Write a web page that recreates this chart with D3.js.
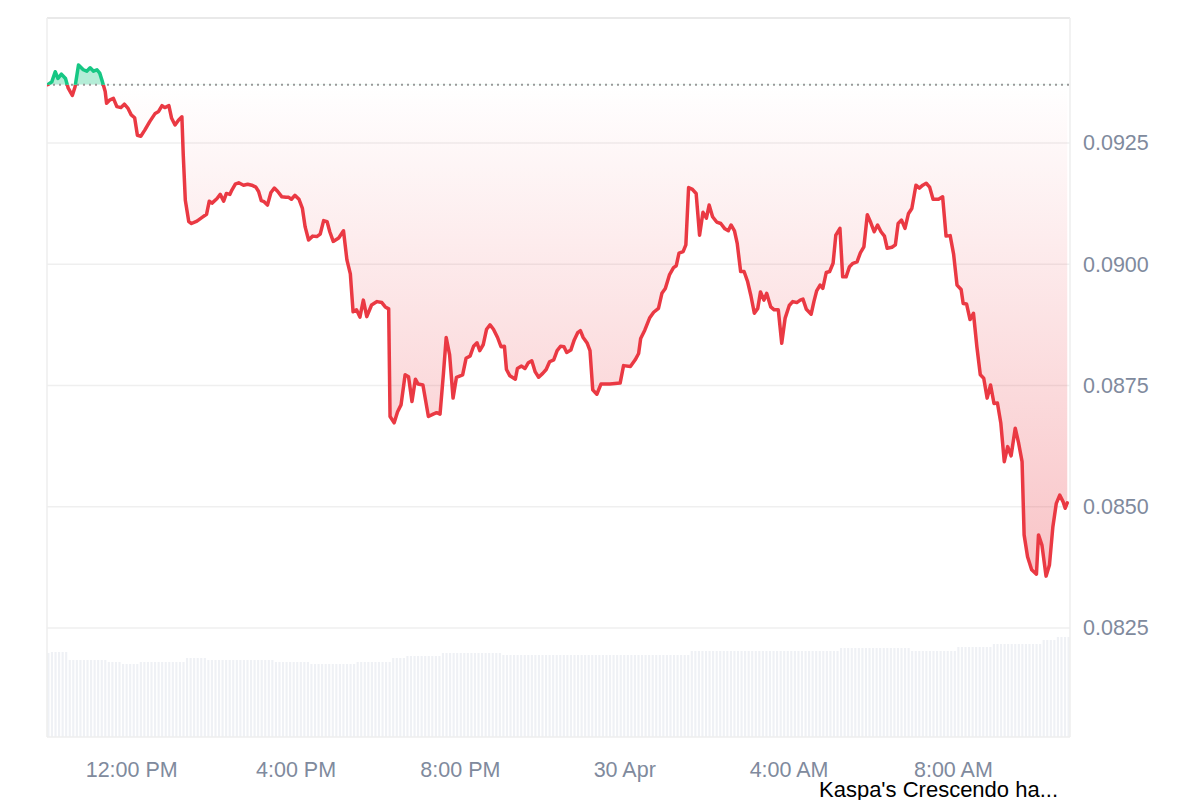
<!DOCTYPE html>
<html>
<head>
<meta charset="utf-8">
<script src="https://cdn.jsdelivr.net/npm/d3@7"></script>
<style>
  html, body { margin: 0; padding: 0; background: #ffffff; }
  svg { display: block; }
  text { font-family: "Liberation Sans", Arial, Helvetica, sans-serif; }
</style>
</head>
<body>
<svg id="chart" width="1200" height="800"></svg>
<script>
// ---------- DATA ----------
const startTime = new Date(2025, 3, 29, 9, 57);   // left edge of the chart
const spanMinutes = 1494;                          // right edge of the chart
const baselinePrice = 0.0937;                      // opening price (dotted line)

// minutes after startTime
const minutes = [
  0,2,7,12,16,21,27,31,37,41,
  46,53,58,63,68,73,77,81,85,87,
  92,97,102,108,113,118,123,128,132,137,
  143,150,158,163,168,172,178,182,187,192,
  197,199,202,207,211,219,226,233,237,241,
  248,253,258,262,267,270,275,280,287,293,
  299,305,309,313,317,322,327,332,337,343,
  349,353,357,362,368,373,377,382,388,394,
  399,404,409,413,418,426,433,438,443,447,
  452,457,462,467,474,482,489,494,499,501,
  507,512,517,523,528,533,538,542,549,557,
  564,569,574,579,583,588,593,598,607,612,
  618,623,628,632,637,642,647,652,658,663,
  668,671,676,684,687,693,698,703,708,713,
  718,724,729,734,740,745,750,755,759,765,
  770,775,779,783,789,793,797,803,809,822,
  837,842,852,859,864,867,873,880,886,893,
  898,903,909,915,919,923,929,933,937,942,
  948,953,958,963,967,972,978,984,990,995,
  999,1004,1008,1013,1018,1023,1028,1033,1038,1042,
  1047,1051,1057,1062,1068,1073,1078,1084,1089,1095,
  1100,1104,1109,1116,1120,1124,1129,1133,1138,1143,
  1148,1152,1158,1162,1167,1172,1177,1183,1188,1193,
  1198,1203,1208,1213,1218,1223,1227,1234,1239,1243,
  1248,1253,1258,1263,1269,1274,1279,1284,1289,1294,
  1302,1308,1313,1319,1324,1329,1335,1338,1343,1348,
  1353,1358,1363,1368,1373,1378,1383,1388,1393,1398,
  1403,1408,1414,1419,1424,1427,1432,1438,1445,1448,
  1453,1459,1464,1469,1474,1479,1484,1487,1490
];

// price in USD
const prices = [
  0.09370,0.09371,0.09376,0.09397,0.09383,0.09392,0.09383,0.09363,0.09348,0.09366,
  0.09411,0.09401,0.09398,0.09405,0.09398,0.09401,0.09394,0.09376,0.09356,0.09332,
  0.09339,0.09342,0.09325,0.09323,0.09330,0.09322,0.09308,0.09302,0.09266,0.09264,
  0.09277,0.09294,0.09311,0.09315,0.09327,0.09323,0.09327,0.09301,0.09287,0.09297,
  0.09304,0.09225,0.09132,0.09088,0.09084,0.09089,0.09096,0.09103,0.09130,0.09126,
  0.09135,0.09144,0.09130,0.09146,0.09144,0.09153,0.09165,0.09168,0.09163,0.09165,
  0.09163,0.09159,0.09150,0.09131,0.09129,0.09122,0.09148,0.09157,0.09150,0.09139,
  0.09138,0.09138,0.09134,0.09142,0.09134,0.09115,0.09077,0.09050,0.09058,0.09057,
  0.09062,0.09090,0.09088,0.09067,0.09047,0.09054,0.09069,0.09009,0.08980,0.08902,
  0.08906,0.08891,0.08926,0.08892,0.08916,0.08923,0.08921,0.08912,0.08908,0.08686,
  0.08673,0.08696,0.08710,0.08772,0.08768,0.08717,0.08763,0.08753,0.08751,0.08686,
  0.08691,0.08694,0.08691,0.08775,0.08849,0.08813,0.08724,0.08767,0.08772,0.08806,
  0.08811,0.08831,0.08838,0.08822,0.08834,0.08866,0.08875,0.08866,0.08849,0.08830,
  0.08831,0.08783,0.08770,0.08763,0.08785,0.08790,0.08785,0.08797,0.08801,0.08778,
  0.08767,0.08775,0.08783,0.08799,0.08803,0.08822,0.08831,0.08830,0.08818,0.08823,
  0.08844,0.08859,0.08863,0.08849,0.08837,0.08822,0.08741,0.08732,0.08753,0.08753,
  0.08755,0.08791,0.08789,0.08803,0.08816,0.08847,0.08864,0.08889,0.08901,0.08909,
  0.08940,0.08950,0.08978,0.08993,0.08997,0.09023,0.09026,0.09040,0.09158,0.09155,
  0.09146,0.09060,0.09107,0.09095,0.09122,0.09098,0.09087,0.09084,0.09073,0.09069,
  0.09081,0.09069,0.09043,0.08985,0.08985,0.08965,0.08935,0.08899,0.08909,0.08943,
  0.08926,0.08940,0.08912,0.08906,0.08906,0.08837,0.08889,0.08915,0.08923,0.08921,
  0.08926,0.08928,0.08907,0.08897,0.08923,0.08945,0.08957,0.08950,0.08983,0.08985,
  0.09002,0.09060,0.09074,0.08974,0.08974,0.08995,0.09002,0.09005,0.09024,0.09036,
  0.09102,0.09086,0.09067,0.09081,0.09067,0.09058,0.09033,0.09035,0.09040,0.09084,
  0.09091,0.09074,0.09104,0.09115,0.09163,0.09157,0.09163,0.09167,0.09159,0.09134,
  0.09134,0.09139,0.09058,0.09059,0.09021,0.08957,0.08948,0.08919,0.08918,0.08886,
  0.08899,0.08830,0.08772,0.08765,0.08724,0.08751,0.08713,0.08714,0.08672,0.08593,
  0.08624,0.08605,0.08662,0.08631,0.08593,0.08442,0.08397,0.08370,0.08361,0.08442,
  0.08421,0.08357,0.08380,0.08459,0.08507,0.08524,0.08510,0.08497,0.08508
];

// rolling volume (relative units), one bar per 5 minutes
const volumes = [
  84,85,85,85,85,85,
  77,77,77,77,77,77,77,77,77,77,77,
  75,75,75,75,
  73,73,73,73,73,
  75,75,75,75,75,75,75,75,75,75,75,75,75,
  79,79,79,79,79,79,
  77,77,77,77,77,77,77,77,77,77,77,77,77,77,77,77,77,77,77,
  75,75,75,75,75,75,75,75,75,75,
  73,73,73,73,73,73,73,73,73,73,73,73,73,
  75,75,75,75,75,75,75,75,75,75,
  79,79,79,79,
  81,81,81,81,81,81,81,81,81,81,
  84,84,84,84,84,84,84,84,84,84,84,84,84,84,84,84,84,
  82,82,82,82,82,82,82,82,82,82,82,82,82,82,82,82,82,82,82,82,
  82,82,82,82,82,82,82,82,82,82,82,82,82,82,82,82,82,82,82,82,
  82,82,82,82,82,82,82,82,82,82,82,82,82,
  86,86,86,86,86,86,86,86,86,86,86,86,86,86,86,86,86,86,86,86,86,
  86,86,86,86,86,86,86,86,86,86,86,86,86,86,86,86,86,86,86,86,86,
  89,89,89,89,89,89,89,89,89,89,89,89,89,89,89,89,89,89,89,89,
  86,86,86,86,86,86,86,86,86,86,86,86,86,
  90,90,90,90,90,90,90,90,90,90,
  93,93,93,93,93,93,93,93,93,93,93,93,93,93,
  97,97,97,97,
  100,100,100,100
];
const volumeMax = 100;

const priceTicks = [0.0825, 0.0850, 0.0875, 0.0900, 0.0925];
const timeTickStrings = ["2025-04-29 12:00","2025-04-29 16:00","2025-04-29 20:00","2025-04-30 00:00","2025-04-30 04:00","2025-04-30 08:00"];
const timeTickLabels = ["12:00 PM","4:00 PM","8:00 PM","30 Apr","4:00 AM","8:00 AM"];
const priceDomain = [0.080253, 0.095077];
const newsLabel = "Kaspa's Crescendo ha...";

// ---------- LAYOUT ----------
const W = 1200, H = 800;
const plot = { left: 47, right: 1070, top: 18, bottom: 737 };
const volTopPx = 637;

const RED = "#ea3943", GREEN = "#16c784";

const svg = d3.select("#chart");
svg.append("rect").attr("width", W).attr("height", H).attr("fill", "#ffffff");

const parseT = d3.timeParse("%Y-%m-%d %H:%M");
const endTime = d3.timeMinute.offset(startTime, spanMinutes);

const x = d3.scaleTime().domain([startTime, endTime]).range([plot.left, plot.right]);
const y = d3.scaleLinear().domain(priceDomain).range([plot.bottom, plot.top]);
const yVol = d3.scaleLinear().domain([0, volumeMax]).range([plot.bottom, volTopPx]);

const data = minutes.map((m, i) => ({ t: d3.timeMinute.offset(startTime, m), p: prices[i] }))
  .filter(d => d.p !== undefined);

const defs = svg.append("defs");
const baseY = y(baselinePrice);
const minY = y(d3.min(prices));

const grad = defs.append("linearGradient").attr("id", "redFill")
  .attr("gradientUnits", "userSpaceOnUse")
  .attr("x1", 0).attr("x2", 0).attr("y1", baseY).attr("y2", minY);
grad.append("stop").attr("offset", 0).attr("stop-color", RED).attr("stop-opacity", 0.0);
grad.append("stop").attr("offset", 1).attr("stop-color", RED).attr("stop-opacity", 0.3);

defs.append("clipPath").attr("id", "above").append("rect")
  .attr("x", plot.left).attr("y", plot.top)
  .attr("width", plot.right - plot.left).attr("height", baseY - plot.top);
defs.append("clipPath").attr("id", "below").append("rect")
  .attr("x", plot.left).attr("y", baseY)
  .attr("width", plot.right - plot.left).attr("height", plot.bottom - baseY);

// ---------- VOLUME BARS ----------
const xb = d3.scaleBand().domain(d3.range(volumes.length))
  .range([plot.left, plot.right]).paddingInner(0.4).paddingOuter(0.1);
svg.append("g").selectAll("rect").data(volumes).join("rect")
  .attr("x", (d, i) => xb(i))
  .attr("width", xb.bandwidth())
  .attr("y", d => yVol(d))
  .attr("height", d => plot.bottom - yVol(d))
  .attr("fill", "#eff1f5");

// ---------- GRID ----------
svg.append("g").selectAll("line").data(priceTicks).join("line")
  .attr("x1", plot.left).attr("x2", plot.right)
  .attr("y1", d => y(d)).attr("y2", d => y(d))
  .attr("stroke", "#efefef").attr("stroke-width", 1.5);

// frame
svg.append("line").attr("x1", plot.left).attr("x2", plot.right)
  .attr("y1", plot.top).attr("y2", plot.top).attr("stroke", "#e2e2e2").attr("stroke-width", 1.5);
svg.append("line").attr("x1", plot.left).attr("x2", plot.left)
  .attr("y1", plot.top).attr("y2", plot.bottom).attr("stroke", "#eeeeee").attr("stroke-width", 1.5);
svg.append("line").attr("x1", plot.right).attr("x2", plot.right)
  .attr("y1", plot.top).attr("y2", plot.bottom).attr("stroke", "#eeeeee").attr("stroke-width", 1.5);
svg.append("line").attr("x1", plot.left).attr("x2", plot.right)
  .attr("y1", plot.bottom).attr("y2", plot.bottom).attr("stroke", "#eeeeee").attr("stroke-width", 1.5);

// ---------- AREAS ----------
const area = d3.area().x(d => x(d.t)).y0(baseY).y1(d => y(d.p));
svg.append("path").datum(data).attr("d", area)
  .attr("fill", "url(#redFill)").attr("clip-path", "url(#below)");
svg.append("path").datum(data).attr("d", area)
  .attr("fill", GREEN).attr("fill-opacity", 0.32).attr("clip-path", "url(#above)");

// baseline dotted
svg.append("line").attr("x1", plot.left).attr("x2", plot.right)
  .attr("y1", baseY).attr("y2", baseY)
  .attr("stroke", "#9a9a9a").attr("stroke-width", 2).attr("stroke-dasharray", "2,4");

// ---------- LINE ----------
const line = d3.line().x(d => x(d.t)).y(d => y(d.p));
svg.append("path").datum(data).attr("d", line)
  .attr("fill", "none").attr("stroke", RED).attr("stroke-width", 3.5)
  .attr("stroke-linejoin", "round").attr("stroke-linecap", "round")
  .attr("clip-path", "url(#below)");
svg.append("path").datum(data).attr("d", line)
  .attr("fill", "none").attr("stroke", GREEN).attr("stroke-width", 3.5)
  .attr("stroke-linejoin", "round").attr("stroke-linecap", "round")
  .attr("clip-path", "url(#above)");

// ---------- AXES ----------
const yAxis = d3.axisRight(y).tickValues(priceTicks).tickFormat(d3.format(".4f"))
  .tickSize(0).tickPadding(13);
const gy = svg.append("g").attr("transform", `translate(${plot.right},0)`).call(yAxis);
gy.select(".domain").remove();
gy.selectAll("text").attr("fill", "#808a9d").style("font-size", "21.5px")
  .style("font-family", "'Liberation Sans', Arial, sans-serif");

const tickTimes = timeTickStrings.map(parseT);
const xAxis = d3.axisBottom(x).tickValues(tickTimes)
  .tickFormat((d, i) => timeTickLabels[i]).tickSize(0).tickPadding(25);
const gx = svg.append("g").attr("transform", `translate(0,${plot.bottom})`).call(xAxis);
gx.select(".domain").remove();
gx.selectAll("text").attr("fill", "#808a9d").style("font-size", "21.5px")
  .style("font-family", "'Liberation Sans', Arial, sans-serif");

// news label
svg.append("text").attr("x", 1058).attr("y", 797).attr("text-anchor", "end")
  .attr("fill", "#000000").style("font-size", "22px").text(newsLabel);
</script>
</body>
</html>
